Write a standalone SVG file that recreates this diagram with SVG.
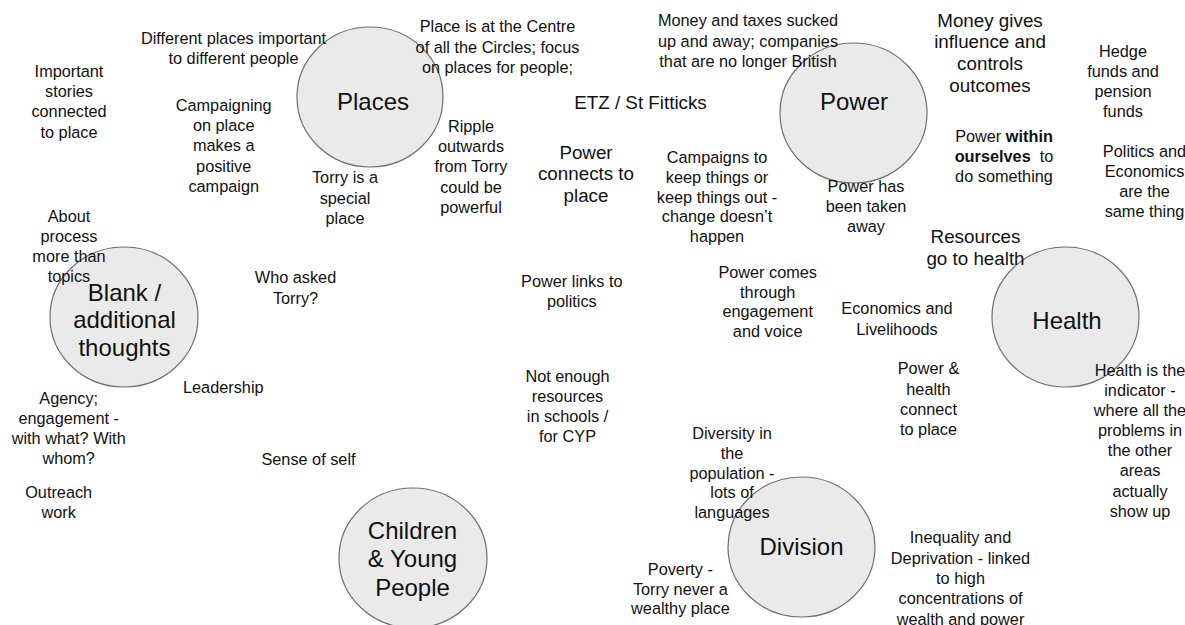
<svg xmlns="http://www.w3.org/2000/svg" width="1185" height="625" viewBox="0 0 1185 625">
  <style>
    .bubble { fill: #eaeaea; stroke: #707070; stroke-width: 1.2; }
    text { font-family: "Liberation Sans", Arial, sans-serif; fill: #111; text-anchor: middle; }
    .note { font-size: 16.3px; }
    .big { font-size: 18.8px; }
    .title { font-size: 24px; }
    .b { font-weight: bold; }
  </style>
  <rect width="1185" height="625" fill="#ffffff"/>

  <!-- theme circles -->
  <g id="places">
    <ellipse class="bubble" cx="370" cy="97" rx="73" ry="70"/>
    <text class="title" x="373" y="110">Places</text>
  </g>
  <g id="power">
    <ellipse class="bubble" cx="853.5" cy="113" rx="73.5" ry="70"/>
    <text class="title" x="854" y="110">Power</text>
  </g>
  <g id="health">
    <ellipse class="bubble" cx="1065.5" cy="317" rx="73.5" ry="70"/>
    <text class="title" x="1067" y="328.5">Health</text>
  </g>
  <g id="blank">
    <ellipse class="bubble" cx="124" cy="317" rx="74" ry="70"/>
    <text class="title" x="124.5" y="300.5">Blank /<tspan x="124.5" y="328">additional</tspan><tspan x="124.5" y="355.5">thoughts</tspan></text>
  </g>
  <g id="children">
    <ellipse class="bubble" cx="413" cy="558" rx="74" ry="70"/>
    <text class="title" x="412.5" y="539">Children<tspan x="412.5" y="567.3">&amp; Young</tspan><tspan x="412.5" y="595.5">People</tspan></text>
  </g>
  <g id="division">
    <ellipse class="bubble" cx="801.5" cy="547" rx="73.5" ry="70"/>
    <text class="title" x="801.5" y="555">Division</text>
  </g>

  <!-- free-standing notes -->
  <g id="note-different-places">
    <text class="note" x="233.5" y="43.5">Different places important<tspan x="233.5" y="63.5">to different people</tspan></text>
  </g>
  <g id="note-important-stories">
    <text class="note" x="69" y="76.7">Important<tspan x="69" y="97">stories</tspan><tspan x="69" y="117.3">connected</tspan><tspan x="69" y="137.6">to place</tspan></text>
  </g>
  <g id="note-campaigning">
    <text class="note" x="223.7" y="111">Campaigning<tspan x="223.7" y="131.2">on place</tspan><tspan x="223.7" y="151.4">makes a</tspan><tspan x="223.7" y="171.6">positive</tspan><tspan x="223.7" y="191.8">campaign</tspan></text>
  </g>
  <g id="note-torry-special">
    <text class="note" x="345" y="183.4">Torry is a<tspan x="345" y="203.7">special</tspan><tspan x="345" y="224">place</tspan></text>
  </g>
  <g id="note-about-process">
    <text class="note" x="69" y="221.7">About<tspan x="69" y="242">process</tspan><tspan x="69" y="262">more than</tspan><tspan x="69" y="282.3">topics</tspan></text>
  </g>
  <g id="note-place-centre">
    <text class="note" x="497.5" y="32.3">Place is at the Centre<tspan x="497.5" y="52.6">of all the Circles; focus</tspan><tspan x="497.5" y="72.9">on places for people;</tspan></text>
  </g>
  <g id="note-ripple">
    <text class="note" x="471" y="131.7">Ripple<tspan x="471" y="152">outwards</tspan><tspan x="471" y="172.3">from Torry</tspan><tspan x="471" y="192.6">could be</tspan><tspan x="471" y="212.9">powerful</tspan></text>
  </g>
  <g id="note-etz">
    <text class="big" x="640.5" y="109">ETZ / St Fitticks</text>
  </g>
  <g id="note-power-connects">
    <text class="big" x="586" y="158.6">Power<tspan x="586" y="180.3">connects to</tspan><tspan x="586" y="202">place</tspan></text>
  </g>
  <g id="note-campaigns-keep">
    <text class="note" x="717" y="163.4">Campaigns to<tspan x="717" y="183">keep things or</tspan><tspan x="717" y="202.6">keep things out -</tspan><tspan x="717" y="222.2">change doesn’t</tspan><tspan x="717" y="241.8">happen</tspan></text>
  </g>
  <g id="note-money-taxes">
    <text class="note" x="748" y="26.3">Money and taxes sucked<tspan x="748" y="46.5">up and away; companies</tspan><tspan x="748" y="66.7">that are no longer British</tspan></text>
  </g>
  <g id="note-money-gives">
    <text class="big" x="990" y="26.7">Money gives<tspan x="990" y="48.3">influence and</tspan><tspan x="990" y="70">controls</tspan><tspan x="990" y="91.6">outcomes</tspan></text>
  </g>
  <g id="note-hedge-funds">
    <text class="note" x="1123" y="56.7">Hedge<tspan x="1123" y="77">funds and</tspan><tspan x="1123" y="97.2">pension</tspan><tspan x="1123" y="117.4">funds</tspan></text>
  </g>
  <g id="note-power-within">
    <text class="note" x="1004" y="141.7">Power <tspan class="b">within</tspan><tspan x="1004" y="162"><tspan class="b">ourselves</tspan><tspan dx="4.5"> to</tspan></tspan><tspan x="1004" y="182">do something</tspan></text>
  </g>
  <g id="note-power-taken">
    <text class="note" x="866" y="191.7">Power has<tspan x="866" y="212">been taken</tspan><tspan x="866" y="232.3">away</tspan></text>
  </g>
  <g id="note-politics-economics">
    <text class="note" x="1144.5" y="156.7">Politics and<tspan x="1144.5" y="177">Economics</tspan><tspan x="1144.5" y="197.2">are the</tspan><tspan x="1144.5" y="217.4">same thing</tspan></text>
  </g>
  <g id="note-resources-health">
    <text class="big" x="975.5" y="242.6">Resources<tspan x="975.5" y="264.5">go to health</tspan></text>
  </g>
  <g id="note-economics-livelihoods">
    <text class="note" x="897" y="314.4">Economics and<tspan x="897" y="334.5">Livelihoods</tspan></text>
  </g>
  <g id="note-power-health">
    <text class="note" x="928.5" y="374.4">Power &amp;<tspan x="928.5" y="394.5">health</tspan><tspan x="928.5" y="414.6">connect</tspan><tspan x="928.5" y="434.7">to place</tspan></text>
  </g>
  <g id="note-health-indicator">
    <text class="note" x="1140" y="375.7">Health is the<tspan x="1140" y="395.85">indicator -</tspan><tspan x="1140" y="416">where all the</tspan><tspan x="1140" y="436.15">problems in</tspan><tspan x="1140" y="456.3">the other</tspan><tspan x="1140" y="476.45">areas</tspan><tspan x="1140" y="496.6">actually</tspan><tspan x="1140" y="516.75">show up</tspan></text>
  </g>
  <g id="note-inequality">
    <text class="note" x="960.5" y="543.4">Inequality and<tspan x="960.5" y="563.7">Deprivation - linked</tspan><tspan x="960.5" y="584">to high</tspan><tspan x="960.5" y="604.3">concentrations of</tspan><tspan x="960.5" y="624.6">wealth and power</tspan></text>
  </g>
  <g id="note-who-asked">
    <text class="note" x="295.5" y="283.4">Who asked<tspan x="295.5" y="303.5">Torry?</tspan></text>
  </g>
  <g id="note-leadership">
    <text class="note" x="223.3" y="393.4">Leadership</text>
  </g>
  <g id="note-agency">
    <text class="note" x="68.7" y="404.4">Agency;<tspan x="68.7" y="424.4">engagement -</tspan><tspan x="68.7" y="444.4">with what? With</tspan><tspan x="68.7" y="464.4">whom?</tspan></text>
  </g>
  <g id="note-sense-of-self">
    <text class="note" x="308.5" y="465">Sense of self</text>
  </g>
  <g id="note-outreach">
    <text class="note" x="58.7" y="497.7">Outreach<tspan x="58.7" y="518">work</tspan></text>
  </g>
  <g id="note-power-politics">
    <text class="note" x="571.8" y="286.7">Power links to<tspan x="571.8" y="306.7">politics</tspan></text>
  </g>
  <g id="note-power-comes">
    <text class="note" x="767.7" y="277.7">Power comes<tspan x="767.7" y="297.5">through</tspan><tspan x="767.7" y="317.3">engagement</tspan><tspan x="767.7" y="337">and voice</tspan></text>
  </g>
  <g id="note-not-enough">
    <text class="note" x="567.5" y="381.7">Not enough<tspan x="567.5" y="402">resources</tspan><tspan x="567.5" y="422">in schools /</tspan><tspan x="567.5" y="442">for CYP</tspan></text>
  </g>
  <g id="note-diversity">
    <text class="note" x="732" y="439">Diversity in<tspan x="732" y="458.8">the</tspan><tspan x="732" y="478.6">population -</tspan><tspan x="732" y="498.4">lots of</tspan><tspan x="732" y="518.2">languages</tspan></text>
  </g>
  <g id="note-poverty">
    <text class="note" x="680.4" y="575">Poverty -<tspan x="680.4" y="594.5">Torry never a</tspan><tspan x="680.4" y="614">wealthy place</tspan></text>
  </g>

  <!-- the themes stand alone: nothing links them -->
  <g id="connectors"/>
</svg>
